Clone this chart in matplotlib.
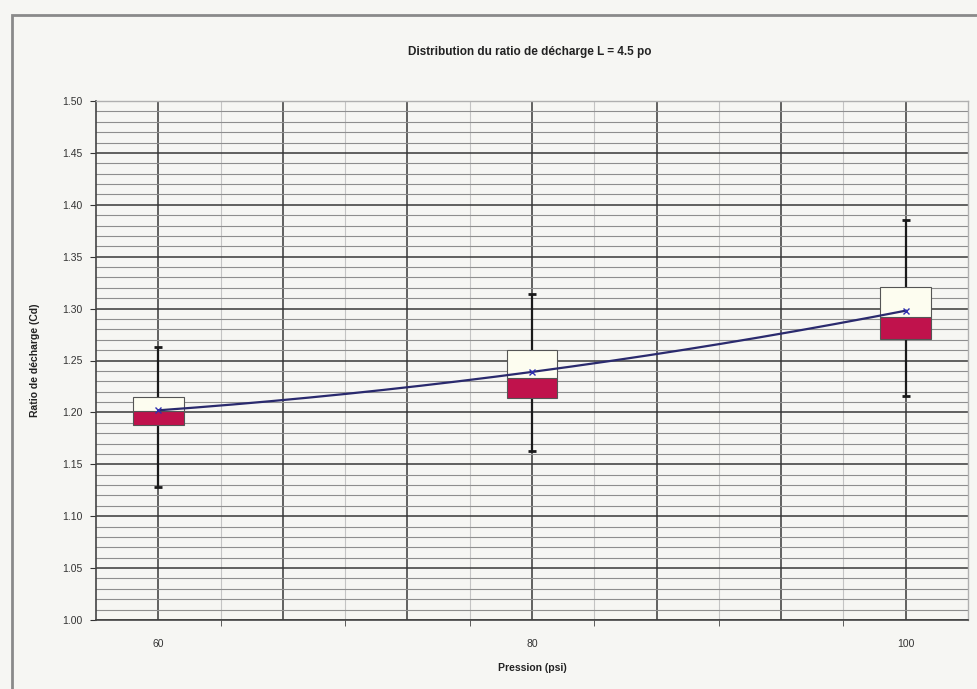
import numpy as np
import matplotlib
matplotlib.use("Agg")
import matplotlib.pyplot as plt
from matplotlib.patches import Rectangle
from matplotlib.ticker import FixedLocator, FixedFormatter

plt.rcParams['font.family'] = ['Liberation Sans', 'DejaVu Sans']

# Data
pressures = [60, 80, 100]
whisker_high = [1.263, 1.314, 1.385]
box_top = [1.215, 1.260, 1.321]
box_mid = [1.201, 1.233, 1.292]
box_bottom = [1.188, 1.214, 1.271]
whisker_low = [1.128, 1.163, 1.216]
means = [1.202, 1.239, 1.298]
x_labels = ["60", "", "", "80", "", "", "100"]

title = "Distribution du ratio de décharge L = 4.5 po"
xlabel = "Pression (psi)"
ylabel = "Ratio de décharge (Cd)"

bg = "#f6f6f3"
fig = plt.figure(figsize=(9.78, 6.89), dpi=100, facecolor=bg)
# outer frame of the chart (partially out of the picture)
fig.patches.append(Rectangle((12 / 978, -0.05), 1.2, 1 - 15 / 689 + 0.05,
                             transform=fig.transFigure, fill=False,
                             edgecolor="#8a8a8a", lw=2.0))

ax = fig.add_axes([96 / 978, 1 - 620 / 689, (968 - 96) / 978, (620 - 101) / 689])
ax.set_facecolor(bg)

step = 20 / 3
ax.set_xlim(60 - step / 2, 100 + step / 2)
ax.set_ylim(1.00, 1.50)

major_x = [60 + k * step for k in range(7)]
minor_x = [60 + step / 2 + k * step for k in range(6)]
ax.xaxis.set_major_locator(FixedLocator(major_x))
ax.xaxis.set_major_formatter(FixedFormatter(x_labels))
ax.xaxis.set_minor_locator(FixedLocator(minor_x))
ax.set_yticks(np.arange(1.00, 1.501, 0.05))
ax.set_yticks(np.arange(1.00, 1.501, 0.01), minor=True)
ax.yaxis.set_major_formatter(matplotlib.ticker.FormatStrFormatter("%.2f"))

ax.grid(True, which="major", axis="both", color="#383838", lw=1.1, zorder=0)
ax.grid(True, which="minor", axis="y", color="#8e8e8e", lw=0.8, zorder=0)
ax.grid(True, which="minor", axis="x", color="#c4c4c4", lw=0.8, zorder=0)
ax.set_axisbelow(True)

ax.tick_params(axis="x", which="major", length=0, pad=14, labelsize=7.5, colors="#333333")
ax.tick_params(axis="x", which="minor", length=4, direction="out", color="#444444")
ax.tick_params(axis="y", which="major", length=4, direction="out", labelsize=7.5,
               colors="#333333", pad=6)
ax.tick_params(axis="y", which="minor", length=0)

for s in ["left", "bottom"]:
    ax.spines[s].set_color("#444444")
    ax.spines[s].set_linewidth(1.2)
for s in ["top", "right"]:
    ax.spines[s].set_color("#b0b0b0")
    ax.spines[s].set_linewidth(1.0)

# whiskers
ax.vlines(pressures, whisker_low, whisker_high, color="#1a1a1a", lw=1.6, zorder=3)
ax.plot(pressures, whisker_high, ls="none", marker="_", ms=6, mew=2.0, color="#1a1a1a", zorder=4)
ax.plot(pressures, whisker_low, ls="none", marker="_", ms=6, mew=2.0, color="#1a1a1a", zorder=4)

# boxes
width = 2.7
lower_h = [m - b for m, b in zip(box_mid, box_bottom)]
upper_h = [t - m for t, m in zip(box_top, box_mid)]
ax.bar(pressures, lower_h, width=width, bottom=box_bottom, color="#c0124c",
       edgecolor="#555555", lw=0.8, zorder=5)
ax.bar(pressures, upper_h, width=width, bottom=box_mid, color="#fdfdf0",
       edgecolor="#555555", lw=0.8, zorder=5)

# trend line through means
coef = np.polyfit(pressures, means, 2)
xs = np.linspace(pressures[0], pressures[-1], 200)
ax.plot(xs, np.polyval(coef, xs), color="#2a2a6e", lw=1.6, zorder=6)
ax.plot(pressures, means, ls="none", marker="x", ms=4, mew=1.0, color="#3030b0", zorder=7)

ax.set_xlabel(xlabel, fontsize=7.5, fontweight="bold", color="#222222", labelpad=10)
ax.set_ylabel(ylabel, fontsize=7.5, fontweight="bold", color="#222222", labelpad=16)
fig.text(0.542, 1 - 52 / 689, title, ha="center", va="center", fontsize=8.5,
         fontweight="bold", color="#222222")

fig.savefig("out.png", dpi=100, facecolor=bg)
